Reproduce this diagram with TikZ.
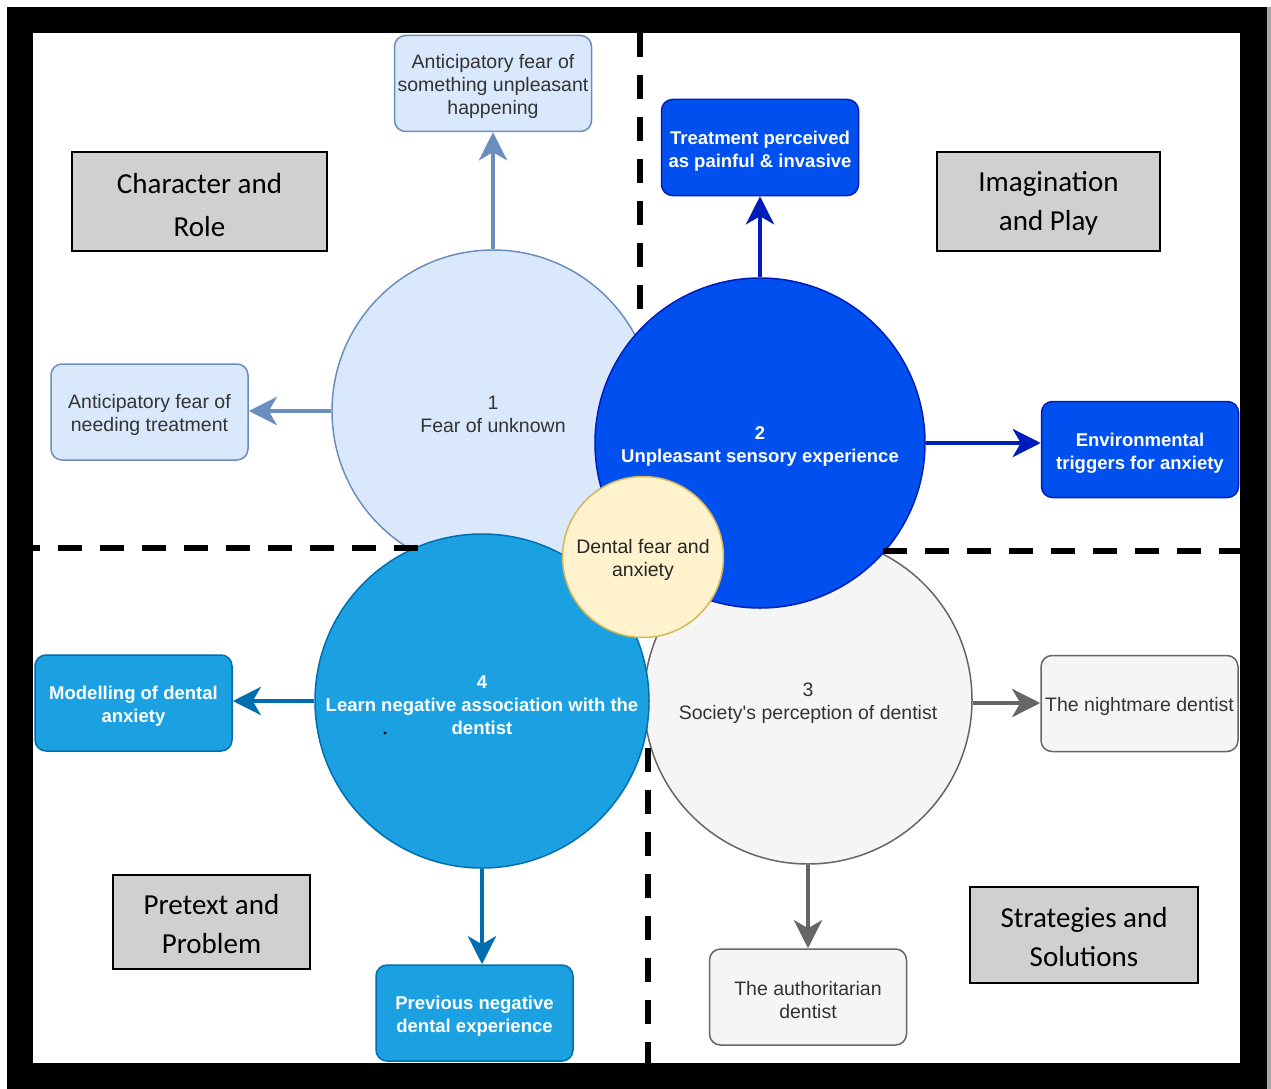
\documentclass[tikz,border=0pt]{standalone}
\usepackage{fontspec}
\setmainfont{Liberation Sans}[Ligatures=TeXOff]
\newfontfamily\calibrifont{Carlito}
\usetikzlibrary{arrows.meta}
\definecolor{cAfill}{HTML}{DAE8FC}
\definecolor{cAline}{HTML}{6C8EBF}
\definecolor{cBfill}{HTML}{0050EF}
\definecolor{cBline}{HTML}{001DBC}
\definecolor{cCfill}{HTML}{F5F5F5}
\definecolor{cCline}{HTML}{666666}
\definecolor{cDfill}{HTML}{1BA1E2}
\definecolor{cDline}{HTML}{006EAF}
\definecolor{cEfill}{HTML}{FFF2CC}
\definecolor{cEline}{HTML}{D6B656}
\definecolor{darktext}{HTML}{333333}
\definecolor{labelgray}{HTML}{D0D0D0}
\definecolor{shadowgray}{HTML}{A8A8A8}
\newcommand\txtup{\rule{0pt}{20.5pt}}
\newcommand\lblup[1]{\rule{0pt}{#1pt}}
\tikzset{
  bigcircle/.style={circle, inner sep=0pt, line width=1.5pt, align=center},
  lightfont/.style={font=\fontsize{19.5}{23}\selectfont, text=darktext},
  boldfont/.style={font=\fontsize{18.5}{23}\selectfont\bfseries, text=white},
  rbox/.style={rectangle, rounded corners=11pt, minimum width=197pt, minimum height=96pt, inner sep=0pt, line width=1.5pt, align=center},
  boxA/.style={rbox, fill=cAfill, draw=cAline, lightfont},
  boxB/.style={rbox, fill=cBfill, draw=cBline, boldfont},
  boxC/.style={rbox, fill=cCfill, draw=cCline, lightfont},
  boxD/.style={rbox, fill=cDfill, draw=cDline, boldfont},
  graylabel/.style={rectangle, fill=labelgray, draw=black, line width=1.2pt, inner sep=0pt, align=center, font=\calibrifont\fontsize{29}{39}\selectfont},
  conn/.style={line width=4.5pt, -{Stealth[length=28pt, width=28pt, inset=8pt]}},
  quadline/.style={line width=6pt, dash pattern=on 24pt off 18pt},
}
\begin{document}
\begin{tikzpicture}[x=1pt, y=-1pt]
\useasboundingbox (0,0) rectangle (1271,1089);
% frame
\fill[white] (0,0) rectangle (1271,1089);
\fill[black] (7,7) rectangle (1267,1089);
\fill[shadowgray] (1267,7) rectangle (1271,1089);
\fill[white] (33,33) rectangle (1240,1063);

% circles
\node[bigcircle, minimum size=322pt, fill=cAfill, draw=cAline, lightfont] (c1) at (493,411) {\txtup 1\\Fear of unknown};
\node[bigcircle, minimum size=328pt, fill=cCfill, draw=cCline, lightfont] (c3) at (808,700) {\txtup 3\\Society's perception of dentist};
\node[bigcircle, minimum size=330pt, fill=cBfill, draw=cBline, boldfont] (c2) at (760,443) {\txtup 2\\Unpleasant sensory experience};
\node[bigcircle, minimum size=334pt, fill=cDfill, draw=cDline, boldfont] (c4) at (482,701) {\txtup 4\\Learn negative association with the\\dentist};
\node[bigcircle, minimum size=161pt, fill=cEfill, draw=cEline, lightfont, text=black!85] (ctr) at (643,557) {\txtup Dental fear and\\anxiety};
\fill[black] (385,733) circle (1.6pt);

% outer boxes
\node[boxA] (tb) at (493,83.5) {\txtup Anticipatory fear of\\something unpleasant\\happening};
\node[boxA] (lb) at (149.5,412) {\txtup Anticipatory fear of\\needing treatment};
\node[boxB] (trt) at (760,147.5) {\txtup Treatment perceived\\as painful \& invasive};
\node[boxB] (env) at (1140,449.5) {\txtup Environmental\\triggers for anxiety};
\node[boxD] (mod) at (133.5,703) {\txtup Modelling of dental\\anxiety};
\node[boxD] (prev) at (474.5,1013) {\txtup Previous negative\\dental experience};
\node[boxC] (nm) at (1139.5,703.5) {\txtup The nightmare dentist};
\node[boxC] (auth) at (808,997) {\txtup The authoritarian\\dentist};

% connectors
\draw[conn, cAline] (c1.north) -- (tb.south);
\draw[conn, cAline] (c1.west) -- (c1.west -| lb.east);
\draw[conn, cBline] (c2.north) -- (trt.south);
\draw[conn, cBline] (c2.east) -- (c2.east -| env.west);
\draw[conn, cDline] (c4.west) -- (c4.west -| mod.east);
\draw[conn, cDline] (c4.south) -- (c4.south |- prev.north);
\draw[conn, cCline] ([yshift=-3pt]c3.east) -- ([yshift=-3pt]c3.east -| nm.west);
\draw[conn, cCline] (c3.south) -- (auth.north);

% gray labels
\node[graylabel, minimum width=255pt, minimum height=99pt, font=\calibrifont\fontsize{29}{43}\selectfont] (lab1) at (199.5,201.5) {\lblup{28}Character and\\Role};
\node[graylabel, minimum width=223pt, minimum height=99pt] (lab2) at (1048.5,201.5) {\lblup{24}Imagination\\and Play};
\node[graylabel, minimum width=197pt, minimum height=94pt] (lab3) at (211.5,922) {\lblup{25}Pretext and\\Problem};
\node[graylabel, minimum width=228pt, minimum height=96pt] (lab4) at (1084,935) {\lblup{24}Strategies and\\Solutions};

% quadrant dashed lines
\coordinate (vt1) at (640,33);
\coordinate (vt2) at (640,310);
\coordinate (vb1) at (648,748);
\coordinate (vb2) at (648,1063);
\coordinate (hl1) at (418,548);
\coordinate (hl2) at (33,548);
\coordinate (hr1) at (883,551);
\coordinate (hr2) at (1240,551);
\draw[quadline] (vt1) -- (vt2);
\draw[quadline] (vb1) -- (vb2);
\draw[quadline] (hl1) -- (hl2);
\draw[quadline] (hr1) -- (hr2);
\end{tikzpicture}
\end{document}
